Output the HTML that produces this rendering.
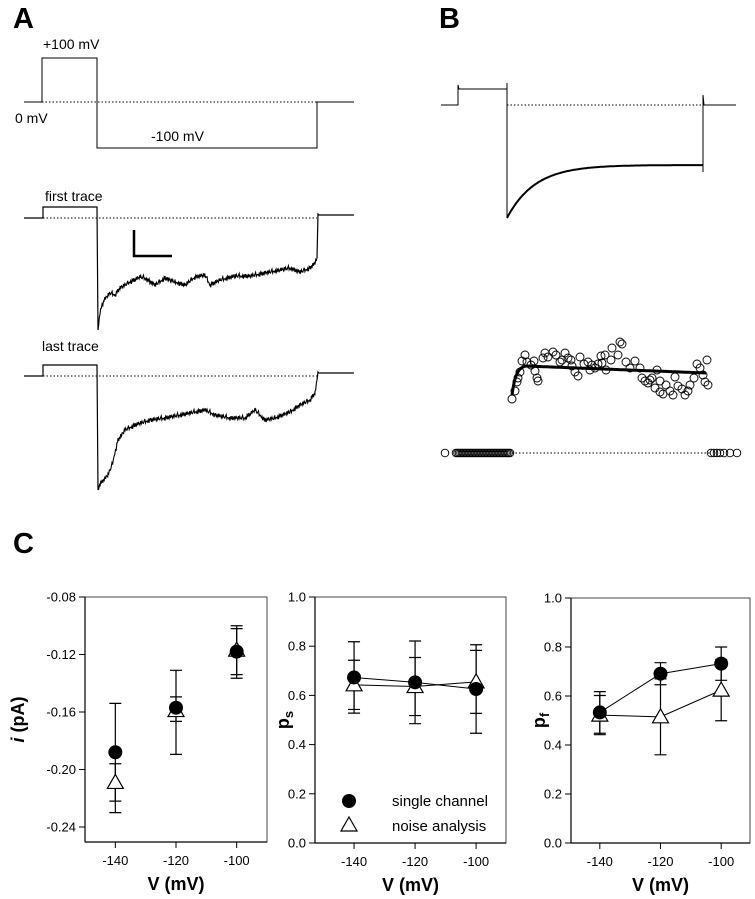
<!DOCTYPE html>
<html><head><meta charset="utf-8">
<style>
html,body{margin:0;padding:0;background:#fff;}
svg{display:block;font-family:"Liberation Sans",Arial,sans-serif;}
</style></head>
<body>
<svg id="fig" width="755" height="899" viewBox="0 0 755 899" xmlns="http://www.w3.org/2000/svg">
  <text x="13" y="28" font-size="29" font-weight="bold">A</text>
  <text x="439" y="28" font-size="29" font-weight="bold">B</text>
  <text x="13" y="553" font-size="29" font-weight="bold">C</text>

  <g fill="none" stroke="#000" stroke-width="1">
    <polyline points="24,102 42,102 42,58 97,58 97,148 317,148 317,102 354,102"/>
    <line x1="42" y1="102" x2="317" y2="102" stroke-dasharray="1.5,2"/>
  </g>
  <text x="43" y="49" font-size="14">+100 mV</text>
  <text x="15" y="123" font-size="14">0 mV</text>
  <text x="151" y="141" font-size="14">-100 mV</text>

  <text x="45" y="201" font-size="14">first trace</text>
  <text x="42" y="351" font-size="14">last trace</text>
  <g id="traceA" fill="none" stroke="#000"></g>
  <polyline points="134,230 134,256 172,256" fill="none" stroke="#000" stroke-width="2.5"/>

  <g id="traceB" fill="none" stroke="#000"></g>

  <g id="panelC"></g>
</svg>
<script>
const voltages = [-140, -120, -100];
const iSingle = [-0.188, -0.157, -0.118];
const iSingleUp = [-0.154, -0.131, -0.100];
const iSingleDown = [-0.230, -0.1665, -0.134];
const iNoise = [-0.209, -0.159, -0.117];
const iNoiseUp = [-0.196, -0.1495, -0.102];
const iNoiseDown = [-0.222, -0.1895, -0.1365];
const psSingle = [0.673, 0.653, 0.626];
const psSingleErr = [0.145, 0.168, 0.18];
const psNoise = [0.643, 0.636, 0.655];
const psNoiseErr = [0.1, 0.118, 0.128];
const pfSingle = [0.533, 0.691, 0.732];
const pfSingleErr = [0.085, 0.045, 0.068];
const pfNoise = [0.522, 0.515, 0.624];
const pfNoiseErr = [0.08, 0.155, 0.125];
const iTicks = [-0.08, -0.12, -0.16, -0.20, -0.24];
const iTickLabels = ["-0.08", "-0.12", "-0.16", "-0.20", "-0.24"];
const pTicks = [0, 0.2, 0.4, 0.6, 0.8, 1.0];
const pTickLabels = ["0.0", "0.2", "0.4", "0.6", "0.8", "1.0"];
const xTicks = [-140, -120, -100];
const xTickLabels = ["-140", "-120", "-100"];

const scatterT = [0,3,5,6,8,10,13,15,19,23,25,26,33,36,41,44,48,50,53,56,60,63,66,68,72,76,78,83,86,90,94,89,93,99,100,106,108,110,114,118,123,128,130,133,136,140,143,148,151,154,158,163,166,170,173,176,178,182,185,188,191,193,196,195,138,161,148,145,22,31,59,80];
const scatterV = [54,62,71,75,81,92,98,91,88,82,75,72,100,96,101,98,91,93,100,95,87,81,77,96,89,91,83,85,89,90,83,97,98,93,105,98,111,109,91,85,92,85,75,72,70,75,65,61,59,68,62,76,67,64,58,62,68,75,89,85,78,71,68,93,73,58,72,83,92,95,93,88];

const NS = "http://www.w3.org/2000/svg";
function mk(parent, tag, attrs) {
  const e = document.createElementNS(NS, tag);
  for (const k in attrs) e.setAttribute(k, attrs[k]);
  parent.appendChild(e);
  return e;
}

const jit = [0,1.5,-1,2,-2,0.5,-1.5,2.5,-0.5,1,-2.5,1.5,-1,0,2,-1.5,1,-2,0.5,1.5,-1,-2,2,0];
const firstKeys = [[98,330],[100,312],[104,300],[110,293],[115,295],[120,288],[130,282],[140,277],[145,278],[155,285],[165,278],[175,282],[185,285],[195,277],[205,275],[210,285],[220,280],[235,276],[250,276],[265,273],[280,270],[290,268],[300,272],[310,268],[315,263],[317,258]];
const lastKeys = [[98,490],[100,484],[108,475],[112,465],[118,440],[125,430],[135,425],[150,420],[165,418],[180,415],[195,412],[205,410],[215,415],[230,418],[245,418],[255,410],[265,420],[275,418],[290,412],[300,405],[310,400],[315,393],[317,380]];
function noisy(keys) {
  let pts = [];
  let n = 0;
  for (let i = 0; i < keys.length - 1; i++) {
    const [x0,y0] = keys[i], [x1,y1] = keys[i+1];
    for (let x = x0; x < x1; x += 0.7) {
      const y = y0 + (y1 - y0) * (x - x0) / (x1 - x0) + jit[n % jit.length] * (n % 3 === 0 ? 1.3 : 0.8);
      pts.push(x.toFixed(1) + "," + y.toFixed(1));
      n++;
    }
  }
  pts.push(keys[keys.length-1].join(","));
  return pts.join(" ");
}
const gA = document.getElementById("traceA");
function drawTraceA(base, hi, keys, name) {
  const g = mk(gA, "g", {});
  
  
  mk(g, "polyline", {points: `24,${base} 43,${base} 43,${hi} 97,${hi} 97,${hi+1} 98,${keys[0][1]}`, "stroke-width": 1.2});
  mk(g, "polyline", {points: noisy(keys), "stroke-width": 1.1});
  mk(g, "polyline", {points: `${keys[keys.length-1][0]},${keys[keys.length-1][1]} 318,${base-4} 319,${base-3} 354,${base-3}`, "stroke-width": 1.2});
  mk(g, "line", {x1: 43, y1: base, x2: 317, y2: base, "stroke-dasharray": "1.5,2", "stroke-width": 1});
}
drawTraceA(218, 207, firstKeys, "first-trace");
drawTraceA(376, 365, lastKeys, "last-trace");

const gB = document.getElementById("traceB");
(function(){
  const g = mk(gB, "g", {});
  
  
  mk(g, "polyline", {points: "441,105 458,105 458,85 459,89 507,89 507,83 507,218", "stroke-width": 1});
  let pts = [];
  for (let x = 507; x <= 703; x += 1) {
    const y = 165 + 53 * Math.exp(-(x - 507) / 28);
    pts.push(x + "," + y.toFixed(1));
  }
  mk(g, "polyline", {points: pts.join(" "), "stroke-width": 2});
  mk(g, "polyline", {points: "703,172 703,95 704,105 736,105", "stroke-width": 1});
  mk(g, "line", {x1: 507, y1: 105, x2: 703, y2: 105, "stroke-dasharray": "1.5,2", "stroke-width": 1});
})();
function sx(t) { return 512 + t; }
function sy(v) { return 453 - v; }
(function(){
  const g = mk(gB, "g", {});
  
  
  for (let i = 0; i < scatterT.length; i++) {
    const c = mk(g, "circle", {cx: sx(scatterT[i]), cy: sy(scatterV[i]), r: 4, fill: "none", stroke: "#000", "stroke-width": 0.9});
    
    
  }
  let pts = [];
  for (let t = 0; t <= 194; t += 1) {
    let v = t < 14 ? 58 + 29 * (1 - Math.exp(-t / 4)) / (1 - Math.exp(-3.5)) : 87 - 7 * (t - 14) / 180;
    pts.push(sx(t) + "," + sy(Math.min(v, 87)).toFixed(1));
  }
  const f = mk(g, "polyline", {points: pts.join(" "), fill: "none", stroke: "#000", "stroke-width": 3});
  
  
  const b = mk(g, "g", {});
  
  
  mk(b, "line", {x1: 512, y1: 453, x2: 710, y2: 453, stroke: "#000", "stroke-dasharray": "1.5,2"});
  mk(b, "circle", {cx: 445, cy: 453, r: 3.8, fill: "none", stroke: "#000", "stroke-width": 0.9});
  for (let x = 456; x <= 510; x += 1.5) mk(b, "circle", {cx: x, cy: 453, r: 3.8, fill: "none", stroke: "#000", "stroke-width": 0.9});
  [711, 714, 717, 720, 724, 730, 737].forEach(x => mk(b, "circle", {cx: x, cy: 453, r: 3.8, fill: "none", stroke: "#000", "stroke-width": 0.9}));
})();

const gC = document.getElementById("panelC");
function plot(opt) {
  const g = mk(gC, "g", {});
  
  
  const X = v => opt.x0 + (v - opt.xd[0]) / (opt.xd[1] - opt.xd[0]) * (opt.x1 - opt.x0);
  const Y = v => opt.yA + (v - opt.yd[0]) / (opt.yd[1] - opt.yd[0]) * (opt.yB - opt.yA);
  const frame = mk(g, "rect", {x: opt.x0, y: opt.yTop, width: opt.x1 - opt.x0, height: opt.yBot - opt.yTop, fill: "none", stroke: "#444", "stroke-width": 1});
  
  
  mk(g, "line", {x1: opt.x0, y1: opt.yTop, x2: opt.x0, y2: opt.yBot, stroke: "#000", "stroke-width": 1.2});
  mk(g, "line", {x1: opt.x0, y1: opt.yBot, x2: opt.x1, y2: opt.yBot, stroke: "#000", "stroke-width": 1.2});
  opt.yt.forEach((v, i) => {
    const y = Y(v);
    mk(g, "line", {x1: opt.x0 - 6, y1: y, x2: opt.x0, y2: y, stroke: "#000"});
    const t = mk(g, "text", {x: opt.x0 - 9, y: y + 4.5, "font-size": 13, "text-anchor": "end"});
    t.textContent = opt.ytl[i];
    
    
  });
  xTicks.forEach((v, i) => {
    const x = X(v);
    mk(g, "line", {x1: x, y1: opt.yBot, x2: x, y2: opt.yBot + 6, stroke: "#000"});
    const t = mk(g, "text", {x: x, y: opt.yBot + 23, "font-size": 13, "text-anchor": "middle"});
    t.textContent = xTickLabels[i];
    
    
  });
  const xt = mk(g, "text", {x: (opt.x0 + opt.x1) / 2, y: opt.yBot + 48, "font-size": 18, "font-weight": "bold", "text-anchor": "middle"});
  xt.textContent = "V (mV)";
  
  
  const yt = mk(g, "text", {transform: `translate(${opt.ytx},${(opt.yTop + opt.yBot) / 2}) rotate(-90)`, "font-size": 18, "font-weight": "bold", "text-anchor": "middle"});
  yt.innerHTML = opt.ytitle;
  
  
  opt.series.forEach(s => {
    if (s.line) {
      const pl = mk(g, "polyline", {points: voltages.map((v, i) => X(v) + "," + Y(s.vals[i])).join(" "), fill: "none", stroke: "#000", "stroke-width": 1});
      
      
    }
    voltages.forEach((v, i) => {
      const x = X(v);
      const yu = Y(s.up[i]), yd = Y(s.down[i]);
      const eb = mk(g, "path", {d: `M${x},${yu}V${yd}M${x-6},${yu}H${x+6}M${x-6},${yd}H${x+6}`, stroke: "#000", "stroke-width": 1.2, fill: "none"});
      
      
    });
  });
  opt.series.forEach(s => {
    voltages.forEach((v, i) => {
      const x = X(v), y = Y(s.vals[i]);
      let m;
      if (s.marker === "circle") m = mk(g, "circle", {cx: x, cy: y, r: 7, fill: "#000"});
      else m = mk(g, "polygon", {points: `${x},${y-8} ${x+8},${y+6} ${x-8},${y+6}`, fill: "#fff", stroke: "#000", "stroke-width": 1.2});
      
      
    });
  });
  return {X, Y, g};
}
plot({name: "single-channel-current-plot", x0: 85, x1: 267, xd: [-150, -90], yTop: 597, yBot: 842,
  yd: [-0.08, -0.24], yA: 597, yB: 827, yt: iTicks, ytl: iTickLabels, ytx: 24,
  ytitle: '<tspan font-style="italic">i</tspan> (pA)',
  series: [
    {name: "noise-analysis", marker: "tri", vals: iNoise, up: iNoiseUp, down: iNoiseDown, line: false},
    {name: "single-channel", marker: "circle", vals: iSingle, up: iSingleUp, down: iSingleDown, line: false}
  ]});
plot({name: "ps-plot", x0: 315, x1: 506, xd: [-152.8, -90.2], yTop: 597, yBot: 843,
  yd: [1, 0], yA: 597, yB: 843, yt: pTicks, ytl: pTickLabels, ytx: 289,
  ytitle: 'p<tspan font-size="13" dy="4">s</tspan>',
  series: [
    {name: "noise-analysis", marker: "tri", vals: psNoise, up: psNoise.map((v,i)=>v+psNoiseErr[i]), down: psNoise.map((v,i)=>v-psNoiseErr[i]), line: true},
    {name: "single-channel", marker: "circle", vals: psSingle, up: psSingle.map((v,i)=>v+psSingleErr[i]), down: psSingle.map((v,i)=>v-psSingleErr[i]), line: true}
  ]});
plot({name: "pf-plot", x0: 571, x1: 750, xd: [-149.5, -90.5], yTop: 598, yBot: 843,
  yd: [1, 0], yA: 598, yB: 843, yt: pTicks, ytl: pTickLabels, ytx: 545,
  ytitle: 'p<tspan font-size="13" dy="4">f</tspan>',
  series: [
    {name: "noise-analysis", marker: "tri", vals: pfNoise, up: pfNoise.map((v,i)=>v+pfNoiseErr[i]), down: pfNoise.map((v,i)=>v-pfNoiseErr[i]), line: true},
    {name: "single-channel", marker: "circle", vals: pfSingle, up: pfSingle.map((v,i)=>v+pfSingleErr[i]), down: pfSingle.map((v,i)=>v-pfSingleErr[i]), line: true}
  ]});
(function(){
  const g = mk(gC, "g", {});
  
  
  const e1 = mk(g, "g", {});
  
  
  mk(e1, "circle", {cx: 349, cy: 801, r: 7, fill: "#000"});
  const t1 = mk(e1, "text", {x: 392, y: 806, "font-size": 15});
  t1.textContent = "single channel";
  const e2 = mk(g, "g", {});
  
  
  mk(e2, "polygon", {points: "349,817 357,831 341,831", fill: "#fff", stroke: "#000", "stroke-width": 1.2});
  const t2 = mk(e2, "text", {x: 392, y: 831, "font-size": 15});
  t2.textContent = "noise analysis";
})();
</script>
</body></html>
